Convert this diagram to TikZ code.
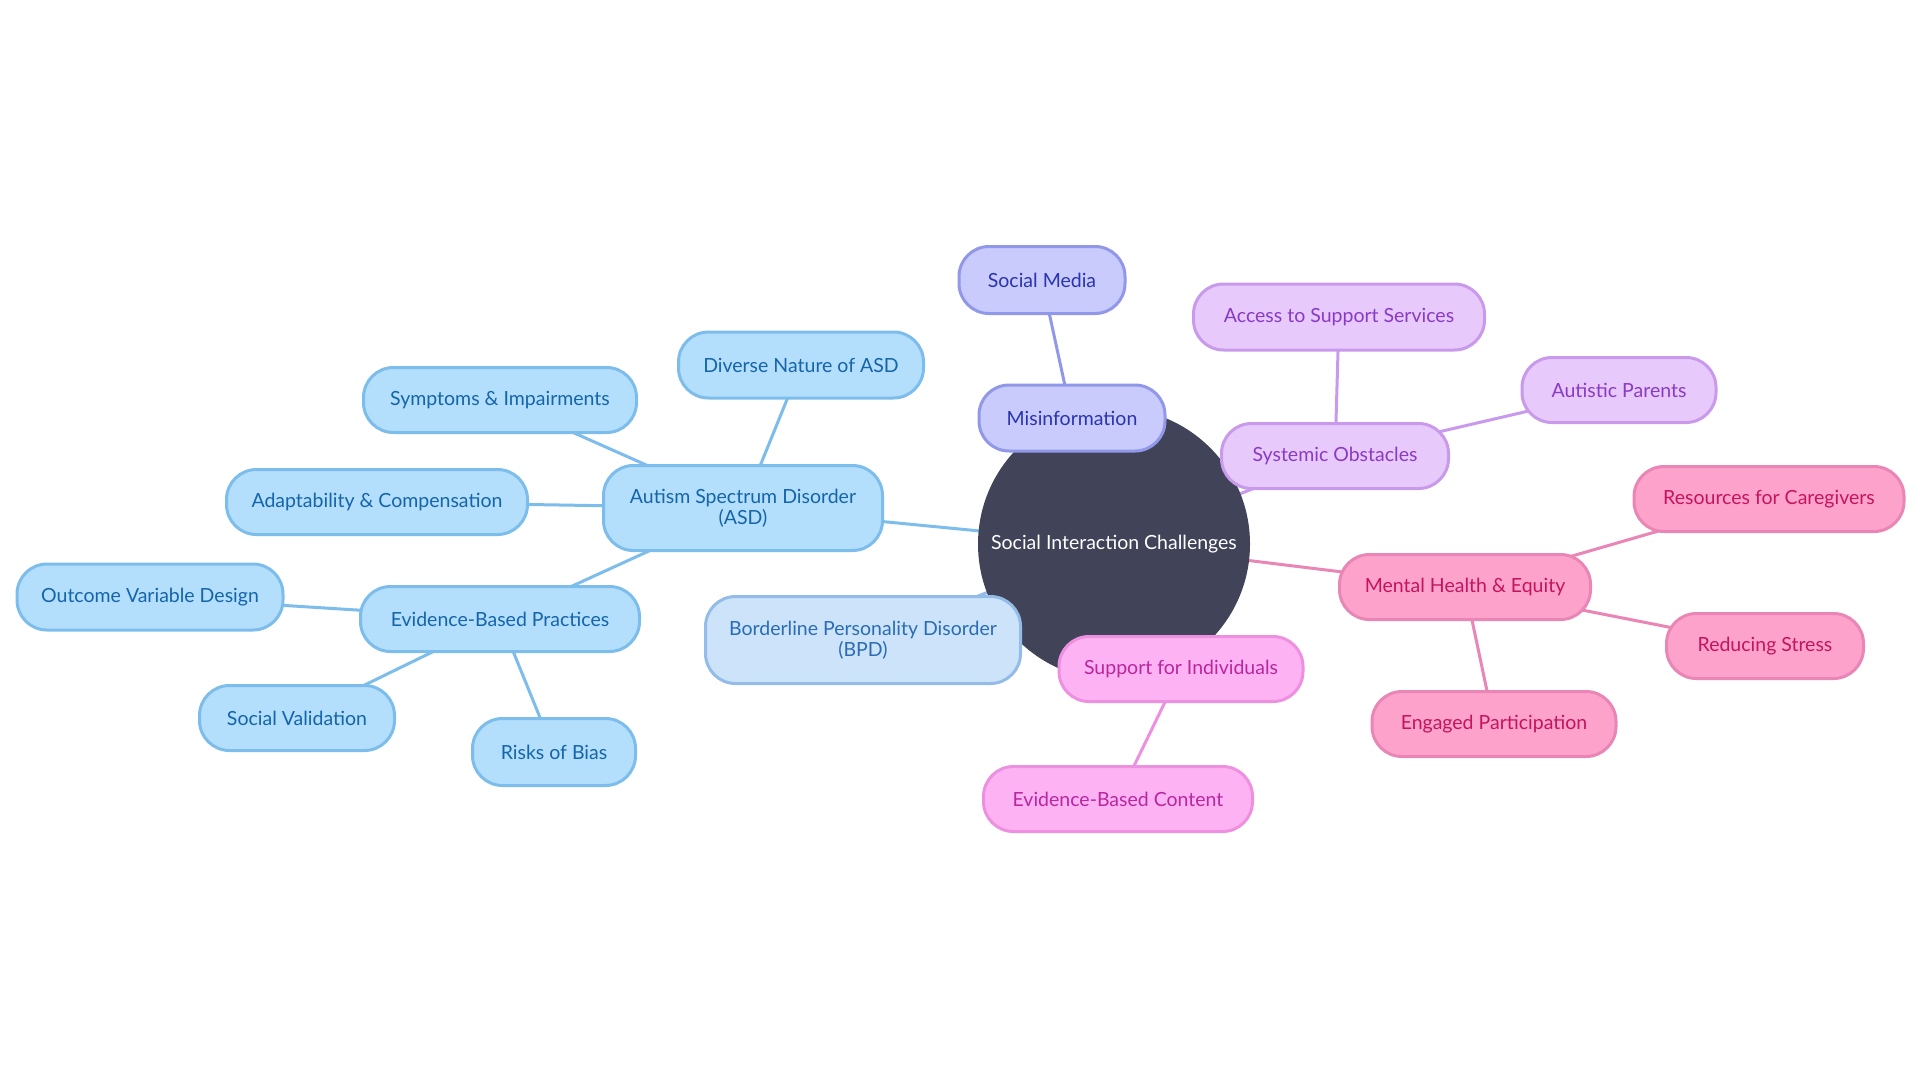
\documentclass[tikz,border=0pt]{standalone}
\usepackage{fontspec}
\setmainfont{Lato}
\pgfdeclarelayer{paper}
\pgfdeclarelayer{bg}
\pgfsetlayers{paper,bg,main}
\definecolor{rootfill}{RGB}{65,68,89}
\definecolor{bluefill}{RGB}{179,222,252}
\definecolor{bluedraw}{RGB}{125,189,235}
\definecolor{bluetext}{RGB}{21,101,170}
\definecolor{bpdfill}{RGB}{204,227,250}
\definecolor{bpddraw}{RGB}{148,188,232}
\definecolor{bpdtext}{RGB}{42,109,181}
\definecolor{indfill}{RGB}{200,203,252}
\definecolor{inddraw}{RGB}{145,152,234}
\definecolor{indtext}{RGB}{43,52,176}
\definecolor{purfill}{RGB}{231,201,252}
\definecolor{purdraw}{RGB}{201,154,235}
\definecolor{purtext}{RGB}{138,58,196}
\definecolor{magfill}{RGB}{253,179,243}
\definecolor{magdraw}{RGB}{238,144,224}
\definecolor{magtext}{RGB}{184,39,158}
\definecolor{pinkfill}{RGB}{253,163,203}
\definecolor{pinkdraw}{RGB}{233,134,181}
\definecolor{pinktext}{RGB}{196,20,95}
\tikzset{
  box/.style={rectangle, rounded corners=30pt, line width=3pt, inner sep=0pt, align=center,
    font=\fontsize{19.5}{21}\selectfont},
  bluebox/.style={box, fill=bluefill, draw=bluedraw, text=bluetext},
  bpdbox/.style={box, fill=bpdfill, draw=bpddraw, text=bpdtext},
  indbox/.style={box, fill=indfill, draw=inddraw, text=indtext},
  purbox/.style={box, fill=purfill, draw=purdraw, text=purtext},
  magbox/.style={box, fill=magfill, draw=magdraw, text=magtext},
  pinkbox/.style={box, fill=pinkfill, draw=pinkdraw, text=pinktext},
  wh/.style n args={2}{minimum width=#1pt, minimum height=#2pt},
  link/.style={line width=3pt},
}
\begin{document}
\begin{tikzpicture}[x=1pt,y=-1pt]
\begin{pgfonlayer}{paper}
\fill[white] (0,0) rectangle (1920,1080);
\end{pgfonlayer}
\useasboundingbox (0,0) rectangle (1920,1080);
% root
\node[circle, fill=rootfill, minimum size=272pt, inner sep=0pt, text=white,
  font=\fontsize{19.5}{21}\selectfont] (root) at (1114,544) {Social Interaction Challenges};
% ASD branch
\node[bluebox, wh={279}{85}] (asd) at (743,508) {Autism Spectrum Disorder\\(ASD)};
\node[bluebox, wh={245}{66}] (diverse) at (801,365) {Diverse Nature of ASD};
\node[bluebox, wh={273}{65}] (symptoms) at (500,400) {Symptoms \& Impairments};
\node[bluebox, wh={301}{65}] (adapt) at (377,502) {Adaptability \& Compensation};
\node[bluebox, wh={279}{65}] (ebp) at (500,619) {Evidence-Based Practices};
\node[bluebox, wh={266}{66}] (outcome) at (150,597) {Outcome Variable Design};
\node[bluebox, wh={195}{65}] (socval) at (297,718) {Social Validation};
\node[bluebox, wh={163}{67}] (risks) at (554,752) {Risks of Bias};
% BPD
\node[bpdbox, wh={315}{87}] (bpd) at (863,640) {Borderline Personality Disorder\\(BPD)};
% Misinformation
\node[indbox, wh={186}{66}] (misinfo) at (1072,418) {Misinformation};
\node[indbox, wh={166}{67}] (socmedia) at (1042,280) {Social Media};
% Systemic
\node[purbox, wh={227}{65}] (systemic) at (1335,456) {Systemic Obstacles};
\node[purbox, wh={291}{66}] (access) at (1339,317) {Access to Support Services};
\node[purbox, wh={194}{65}] (autparents) at (1619,390) {Autistic Parents};
% Mental health
\node[pinkbox, wh={251}{65}] (mental) at (1465,587) {Mental Health \& Equity};
\node[pinkbox, wh={270}{65}] (resources) at (1769,499) {Resources for Caregivers};
\node[pinkbox, wh={197}{65}] (reducing) at (1765,646) {Reducing Stress};
\node[pinkbox, wh={244}{65}] (engaged) at (1494,724) {Engaged Participation};
% Support
\node[magbox, wh={244}{65}] (support) at (1181,669) {Support for Individuals};
\node[magbox, wh={269}{65}] (evcontent) at (1118,799) {Evidence-Based Content};
% connectors
\begin{pgfonlayer}{bg}
\draw[link, bluedraw] (root.center) -- (asd.center);
\draw[link, bluedraw] (asd.center) -- (diverse.center);
\draw[link, bluedraw] (asd.center) -- (symptoms.center);
\draw[link, bluedraw] (asd.center) -- (adapt.center);
\draw[link, bluedraw] (asd.center) -- (ebp.center);
\draw[link, bluedraw] (ebp.center) -- (outcome.center);
\draw[link, bluedraw] (ebp.center) -- (socval.center);
\draw[link, bluedraw] (ebp.center) -- (risks.center);
\draw[link, bpddraw] (root.center) -- (bpd.center);
\draw[link, inddraw] (root.center) -- (misinfo.center);
\draw[link, inddraw] (misinfo.center) -- (socmedia.center);
\draw[link, purdraw] (root.center) -- (systemic.center);
\draw[link, purdraw] (systemic.center) -- (access.center);
\draw[link, purdraw] (systemic.center) -- (autparents.center);
\draw[link, pinkdraw] (root.center) -- (mental.center);
\draw[link, pinkdraw] (mental.center) -- (resources.center);
\draw[link, pinkdraw] (mental.center) -- (reducing.center);
\draw[link, pinkdraw] (mental.center) -- (engaged.center);
\draw[link, magdraw] (root.center) -- (support.center);
\draw[link, magdraw] (support.center) -- (evcontent.center);
\end{pgfonlayer}
\end{tikzpicture}
\end{document}
